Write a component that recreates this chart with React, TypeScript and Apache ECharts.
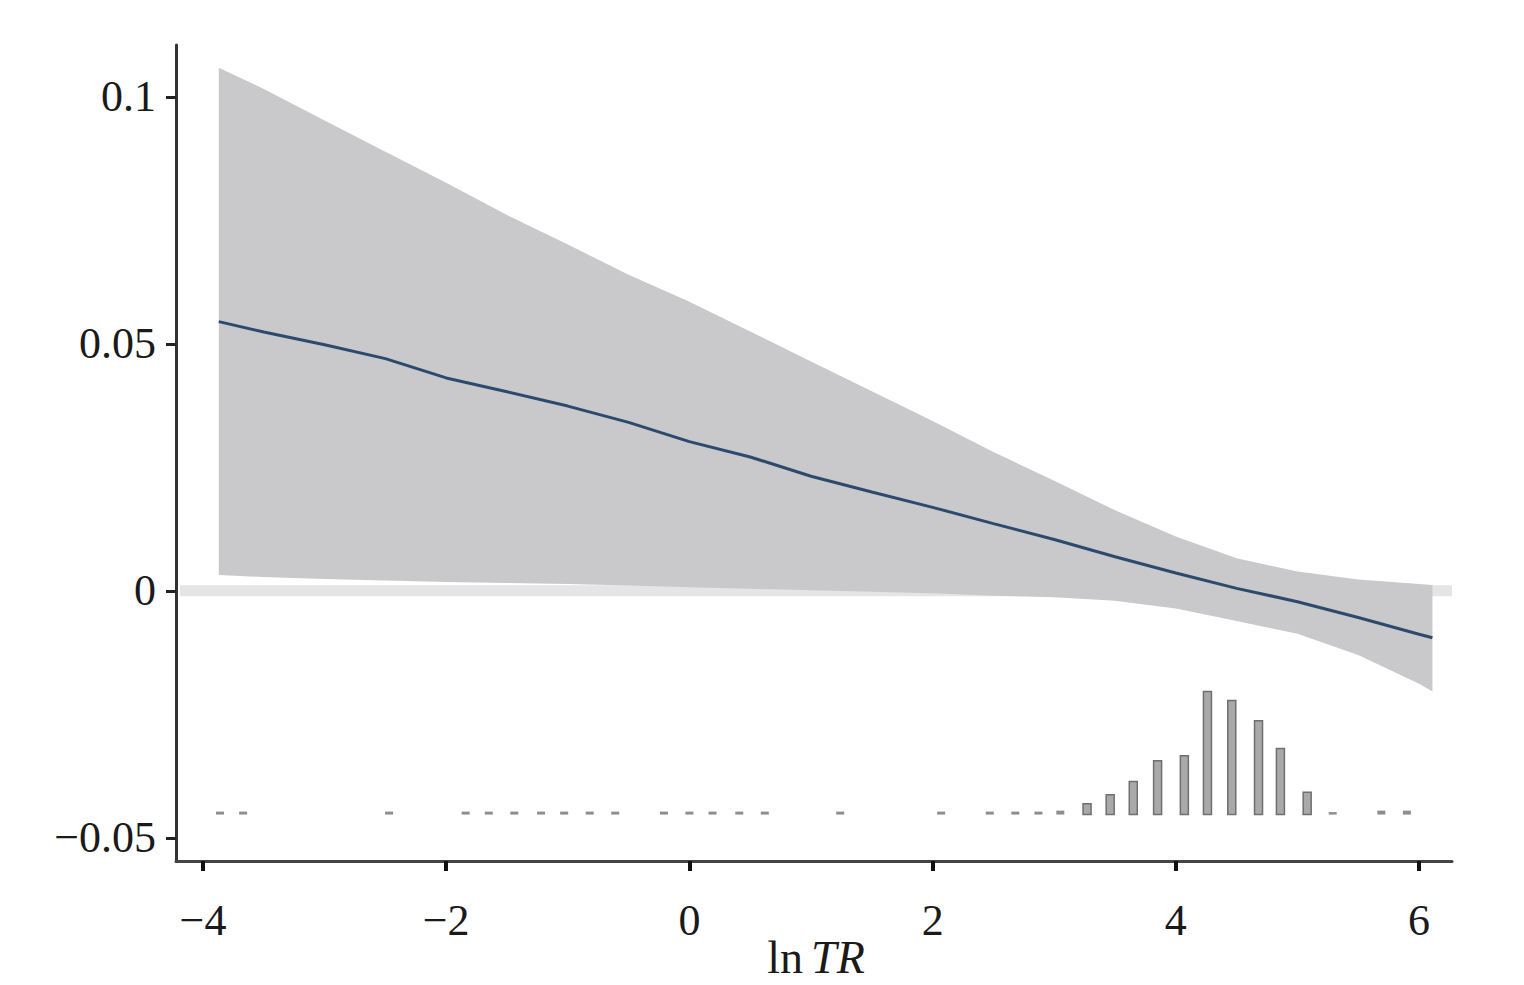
import React, { useEffect, useRef } from "react";
import * as echarts from "echarts";

// ---- Data ----
const ribbonX = [-3.87, -3.5, -3.0, -2.5, -2.0, -1.5, -1.0, -0.5, 0, 0.5, 1.0, 1.5, 2.0, 2.5, 3.0, 3.5, 4.0, 4.5, 5.0, 5.5, 6.0, 6.11];
const upperCI = [0.1059, 0.1016, 0.0952, 0.0889, 0.0826, 0.0761, 0.0701, 0.064, 0.0585, 0.0525, 0.0464, 0.0404, 0.0344, 0.0281, 0.0223, 0.0163, 0.011, 0.0066, 0.0039, 0.0023, 0.0014, 0.0012];
const lowerCI = [0.0032, 0.0028, 0.0024, 0.0021, 0.0018, 0.0016, 0.0014, 0.0011, 0.0007, 0.0004, 0.0001, -0.0002, -0.0005, -0.001, -0.0013, -0.002, -0.0036, -0.0061, -0.0087, -0.013, -0.0188, -0.0204];
const fitLine = [0.0545, 0.0524, 0.0498, 0.047, 0.0431, 0.0403, 0.0374, 0.0341, 0.0302, 0.0271, 0.0232, 0.02, 0.0169, 0.0136, 0.0104, 0.0069, 0.0036, 0.0005, -0.0022, -0.0054, -0.0088, -0.0095];

const histX = [-3.86, -3.67, -2.47, -1.84, -1.65, -1.44, -1.22, -1.03, -0.82, -0.61, -0.21, 0.0, 0.19, 0.41, 0.62, 1.24, 2.07, 2.47, 2.68, 2.87, 3.05, 3.27, 3.46, 3.65, 3.85, 4.07, 4.26, 4.46, 4.68, 4.86, 5.08, 5.29, 5.69, 5.9];
const histH = [0.0006, 0.0006, 0.0006, 0.0006, 0.0006, 0.0006, 0.0006, 0.0006, 0.0006, 0.0006, 0.0006, 0.0006, 0.0006, 0.0006, 0.0006, 0.0006, 0.0006, 0.0006, 0.0006, 0.0006, 0.0008, 0.0022, 0.004, 0.0067, 0.0109, 0.0119, 0.0249, 0.0231, 0.019, 0.0134, 0.0045, 0.0005, 0.0008, 0.0008];
const histBase = -0.0453;

const xTicks = [-4, -2, 0, 2, 4, 6];
const xTickLabels = ["\u22124", "\u22122", "0", "2", "4", "6"];
const yTicks = [-0.05, 0, 0.05, 0.1];
const yTickLabels = ["\u22120.05", "0", "0.05", "0.1"];

const FONT = "'Liberation Serif', 'Times New Roman', serif";

function labelFor(v: number, ticks: number[], labels: string[]) {
  for (let i = 0; i < ticks.length; i++) {
    if (Math.abs(ticks[i] - v) < 1e-9) return labels[i];
  }
  return "";
}

export default function App() {
  const ref = useRef<HTMLDivElement>(null);
  useEffect(() => {
    if (!ref.current) return;
    const chart = echarts.init(ref.current, null, { renderer: "svg" });
    const option: any = {
      animation: false,
      backgroundColor: "#ffffff",
      grid: { left: 176, top: 45, right: 72, bottom: 124, containLabel: false, outerBoundsMode: "none" },
      graphic: [
        {
          type: "text",
          x: 816,
          y: 957,
          silent: true,
          style: {
            text: "{n|ln}{i|TR}",
            align: "center",
            verticalAlign: "middle",
            rich: {
              n: { fontFamily: FONT, fontSize: 46, fill: "#1a1a1a" },
              i: { fontFamily: FONT, fontSize: 46, fontStyle: "italic", fill: "#1a1a1a", padding: [0, 0, 0, 8] },
            },
          },
        },
      ],
      xAxis: {
        type: "value",
        min: -4.222,
        max: 6.271,
        splitLine: { show: false },
        axisLine: { show: true, onZero: false, lineStyle: { color: "#444", width: 3 } },
        axisTick: { show: true, customValues: xTicks, length: 10, lineStyle: { color: "#111", width: 4 } },
        axisLabel: {
          customValues: xTicks,
          formatter: (v: number) => labelFor(v, xTicks, xTickLabels),
          fontFamily: FONT,
          fontSize: 44,
          color: "#1a1a1a",
          margin: 37,
        },
      },
      yAxis: {
        type: "value",
        min: -0.0547,
        max: 0.1105,
        splitLine: { show: false },
        axisLine: { show: true, onZero: false, lineStyle: { color: "#333", width: 3 } },
        axisTick: { show: true, customValues: yTicks, length: 10, lineStyle: { color: "#222", width: 3 } },
        axisLabel: {
          customValues: yTicks,
          formatter: (v: number) => labelFor(v, yTicks, yTickLabels),
          fontFamily: FONT,
          fontSize: 44,
          color: "#1a1a1a",
          margin: 20,
        },
      },
      series: [
        {
          type: "line",
          silent: true,
          symbol: "none",
          data: [
            [-4.19, 0],
            [6.271, 0],
          ],
          lineStyle: { color: "#e5e5e5", width: 11 },
          z: 1,
        },
        {
          type: "custom",
          silent: true,
          data: ribbonX.map((x, i) => [x, upperCI[i], lowerCI[i]]),
          encode: { x: 0, y: [1, 2] },
          renderItem: (params: any, api: any) => {
            if (params.dataIndex !== 0) return null;
            const pts: number[][] = [];
            for (let i = 0; i < ribbonX.length; i++) pts.push(api.coord([ribbonX[i], upperCI[i]]));
            for (let i = ribbonX.length - 1; i >= 0; i--) pts.push(api.coord([ribbonX[i], lowerCI[i]]));
            return { type: "polygon", shape: { points: pts }, style: { fill: "#c9c8ca" } };
          },
          z: 2,
        },
        {
          type: "line",
          silent: true,
          symbol: "none",
          data: ribbonX.map((x, i) => [x, fitLine[i]]),
          lineStyle: { color: "#2c4a6e", width: 3 },
          z: 3,
        },
        {
          type: "custom",
          silent: true,
          data: histX.map((x, i) => [x, histH[i]]),
          encode: { x: 0, y: 1 },
          renderItem: (params: any, api: any) => {
            const x = api.value(0);
            const h = api.value(1);
            const p0 = api.coord([x, histBase]);
            const p1 = api.coord([x, histBase + h]);
            const big = h > 0.0015;
            return {
              type: "rect",
              shape: { x: p0[0] - 4, y: p1[1], width: 8, height: p0[1] - p1[1] },
              style: big
                ? { fill: "#a9a9a9", stroke: "#6f6f6f", lineWidth: 1.5 }
                : { fill: "#8e8e8e" },
            };
          },
          z: 3,
        },
      ],
    };
    chart.setOption(option);
    return () => chart.dispose();
  }, []);
  return (
    <div
      ref={ref}
      style={{ position: "fixed", left: 0, top: 0, width: 1524, height: 985, background: "#fff" }}
    />
  );
}
